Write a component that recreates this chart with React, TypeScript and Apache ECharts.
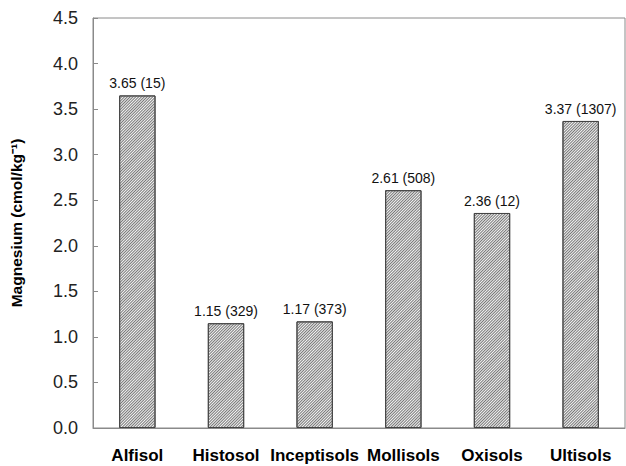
import React, { useEffect, useRef } from "react";
import * as echarts from "echarts";

const categories = ["Alfisol", "Histosol", "Inceptisols", "Mollisols", "Oxisols", "Ultisols"];
const magnesium = [3.65, 1.15, 1.17, 2.61, 2.36, 3.37];
const counts = [15, 329, 373, 508, 12, 1307];

export default function App() {
  const ref = useRef<HTMLDivElement>(null);
  useEffect(() => {
    document.body.style.margin = "0";
    const chart = echarts.init(ref.current!, null, { renderer: "svg" });
    chart.setOption({
      animation: false,
      grid: { left: 87, right: 1, top: 18, bottom: 38, show: true, borderColor: "#8a8a8a", borderWidth: 1 },
      xAxis: {
        type: "category",
        data: categories,
        axisLine: { lineStyle: { color: "#8a8a8a" } },
        axisTick: { show: false },
        axisLabel: { interval: 0, color: "#000", fontWeight: "bold", fontSize: 17, margin: 19, fontFamily: "Liberation Sans, Arial" },
      },
      yAxis: {
        type: "value",
        min: 0,
        max: 4.5,
        interval: 0.5,
        name: "Magnesium (cmol/kg⁻¹)",
        nameLocation: "middle",
        nameGap: 69,
        nameTextStyle: { color: "#000", fontWeight: "bold", fontSize: 15.5, fontFamily: "Liberation Sans, Arial" },
        axisLine: { show: true, lineStyle: { color: "#8a8a8a" } },
        axisTick: { show: true, inside: true, length: 5, lineStyle: { color: "#8a8a8a" } },
        splitLine: { show: false },
        axisLabel: {
          color: "#222",
          fontSize: 18,
          margin: 15,
          fontFamily: "Liberation Sans, Arial",
          formatter: (v: number) => v.toFixed(1),
        },
      },
      series: [
        {
          type: "bar",
          data: magnesium,
          barWidth: "41%",
          itemStyle: {
            color: "#f4f4f4",
            borderColor: "#444",
            borderWidth: 1,
            decal: {
              symbol: "rect",
              symbolSize: 1,
              color: "#777",
              dashArrayX: [1, 0],
              dashArrayY: [1, 1],
              rotation: -Math.PI / 4,
            },
          },
          label: {
            show: true,
            position: "top",
            distance: 5,
            color: "#111",
            fontSize: 14,
            fontFamily: "Liberation Sans, Arial",
            formatter: (p: any) => `${magnesium[p.dataIndex].toFixed(2)} (${counts[p.dataIndex]})`,
          },
        },
      ],
    });
    return () => chart.dispose();
  }, []);
  return <div ref={ref} style={{ width: 626, height: 466 }} />;
}
